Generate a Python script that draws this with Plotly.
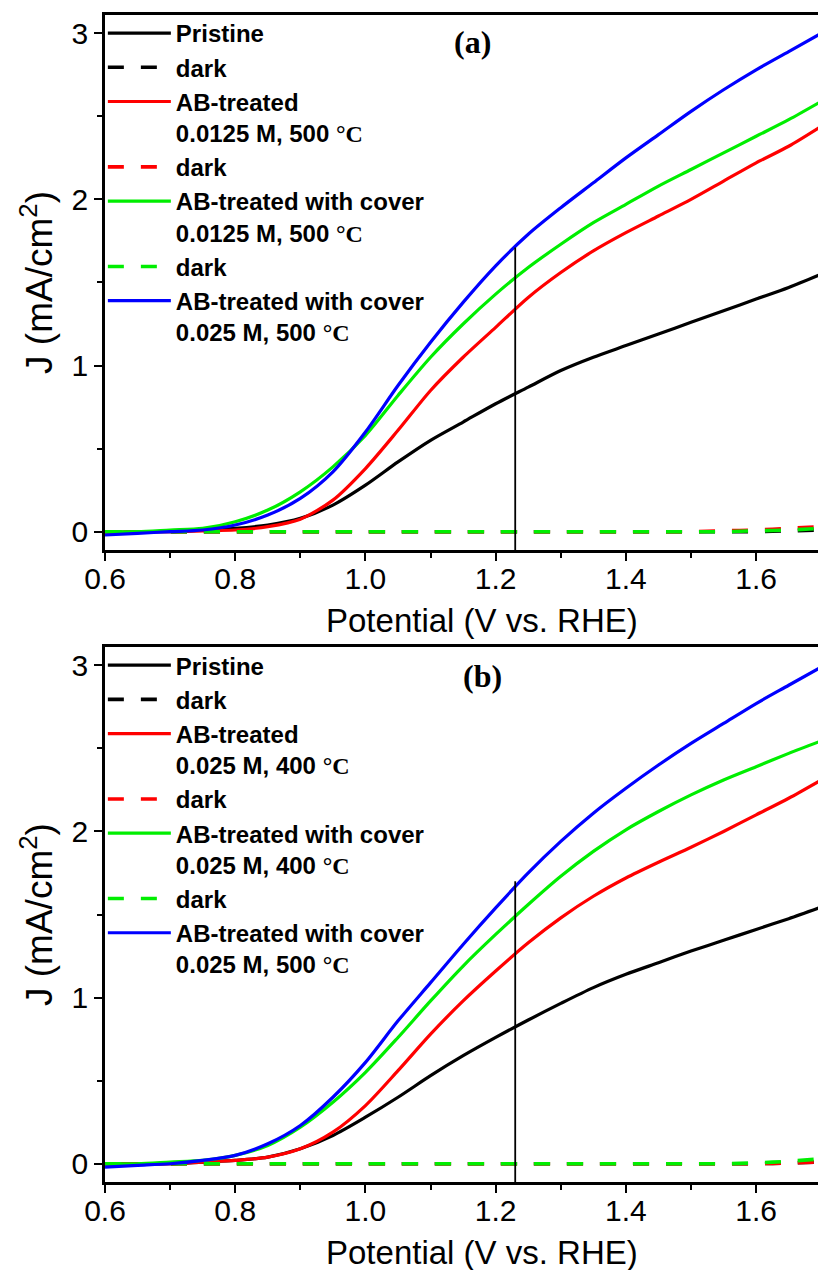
import plotly.graph_objects as go

# ---------------- data ----------------
V = [0.60, 0.65, 0.70, 0.75, 0.80, 0.85, 0.90, 0.95, 1.00, 1.05, 1.10, 1.15,
     1.20, 1.25, 1.30, 1.35, 1.40, 1.45, 1.50, 1.55, 1.60, 1.65, 1.70]

# panel (a)
a_pristine = [-0.01, 0.00, 0.00, 0.01, 0.02, 0.04, 0.08, 0.16, 0.28, 0.42, 0.55, 0.66,
              0.77, 0.87, 0.97, 1.05, 1.12, 1.19, 1.26, 1.33, 1.40, 1.47, 1.55]
a_pristine_dark = [0.00] * 20 + [0.00, 0.005, 0.01]
a_ab = [-0.01, 0.00, 0.00, 0.005, 0.01, 0.03, 0.075, 0.19, 0.38, 0.61, 0.85, 1.05,
        1.23, 1.41, 1.56, 1.69, 1.80, 1.90, 2.00, 2.11, 2.22, 2.32, 2.44]
a_ab_dark = [0.00] * 18 + [0.00, 0.005, 0.01, 0.02, 0.03]
a_cov1 = [0.00, 0.00, 0.01, 0.02, 0.06, 0.13, 0.24, 0.39, 0.58, 0.82, 1.05, 1.25,
          1.43, 1.59, 1.73, 1.86, 1.97, 2.08, 2.18, 2.28, 2.38, 2.48, 2.59]
a_cov1_dark = [0.00] * 20 + [0.005, 0.01, 0.02]
a_cov2 = [-0.02, -0.01, 0.00, 0.01, 0.04, 0.10, 0.20, 0.36, 0.60, 0.88, 1.14, 1.38,
          1.60, 1.79, 1.95, 2.10, 2.25, 2.39, 2.53, 2.66, 2.78, 2.89, 3.00]

# panel (b)
b_pristine = [0.00, 0.00, 0.00, 0.01, 0.02, 0.04, 0.09, 0.17, 0.28, 0.40, 0.53, 0.65,
              0.76, 0.865, 0.965, 1.06, 1.14, 1.21, 1.28, 1.345, 1.41, 1.475, 1.545]
b_pristine_dark = [0.00] * 20 + [0.00, 0.005, 0.01]
b_ab = [0.00, 0.00, 0.00, 0.01, 0.02, 0.04, 0.09, 0.19, 0.35, 0.56, 0.78, 0.98,
        1.16, 1.33, 1.48, 1.61, 1.72, 1.815, 1.905, 2.00, 2.10, 2.20, 2.31]
b_ab_dark = [0.00] * 20 + [0.00, 0.005, 0.01]
b_cov1 = [0.00, 0.00, 0.01, 0.02, 0.05, 0.11, 0.22, 0.37, 0.55, 0.76, 0.98, 1.19,
          1.38, 1.56, 1.73, 1.88, 2.01, 2.12, 2.22, 2.31, 2.39, 2.47, 2.545]
b_cov1_dark = [0.00] * 20 + [0.005, 0.015, 0.03]
b_cov2 = [-0.02, -0.01, 0.00, 0.02, 0.05, 0.12, 0.23, 0.40, 0.61, 0.86, 1.09, 1.32,
          1.54, 1.75, 1.94, 2.11, 2.26, 2.40, 2.53, 2.65, 2.77, 2.88, 2.99]

# marker line at 1.23 V (from x axis up to blue curve)
mark_V = [1.23, 1.23]
a_mark_J = [-0.11, 1.71]
b_mark_J = [-0.11, 1.70]

x_title = "Potential (V vs. RHE)"
y_title = "J (mA/cm<sup>2</sup>)"
C = '<span style="font-family:Liberation Serif">°C</span>'
names_a = ["Pristine", "dark", "AB-treated<br>0.0125 M, 500 " + C, "dark",
           "AB-treated with cover<br>0.0125 M, 500 " + C, "dark",
           "AB-treated with cover<br>0.025 M, 500 " + C]
names_b = ["Pristine", "dark", "AB-treated<br>0.025 M, 400 " + C, "dark",
           "AB-treated with cover<br>0.025 M, 400 " + C, "dark",
           "AB-treated with cover<br>0.025 M, 500 " + C]
colors = ["#000000", "#000000", "#ff0000", "#ff0000", "#00ee00", "#00ee00", "#0000ff"]
dashes = ["solid", "16px,17px", "solid", "16px,17px", "solid", "16px,17px", "solid"]
widths = [3.2, 3.6, 3.2, 3.6, 3.2, 3.6, 3.2]

series_a = [a_pristine, a_pristine_dark, a_ab, a_ab_dark, a_cov1, a_cov1_dark, a_cov2]
series_b = [b_pristine, b_pristine_dark, b_ab, b_ab_dark, b_cov1, b_cov1_dark, b_cov2]

fig = go.Figure()

for series, names, leg, xa, ya, mark in [
        (series_a, names_a, "legend", "x", "y", a_mark_J),
        (series_b, names_b, "legend2", "x2", "y2", b_mark_J)]:
    for s, n, c, d, w in zip(series, names, colors, dashes, widths):
        fig.add_trace(go.Scatter(
            x=V, y=s, name=n, mode="lines", legend=leg, xaxis=xa, yaxis=ya,
            line=dict(color=c, width=w, dash=d, shape="spline", smoothing=0.8)))
    fig.add_trace(go.Scatter(x=mark_V, y=mark, mode="lines", showlegend=False,
                             xaxis=xa, yaxis=ya,
                             line=dict(color="black", width=1.8)))

FONT = "Liberation Sans"
axis_common = dict(showline=True, linecolor="black", linewidth=2.6,
                   ticks="outside", ticklen=8, tickwidth=2.2, tickcolor="black",
                   showgrid=False, zeroline=False,
                   tickfont=dict(family=FONT, size=30, color="black"))

dom_a = [0.5416, 1.0]
dom_b = [0.0, 0.4584]
for i, dom in enumerate([dom_a, dom_b]):
    sfx = "" if i == 0 else str(i + 1)
    fig.update_layout(**{
        "xaxis" + sfx: dict(axis_common, domain=[0, 1], range=[0.6, 1.695],
                            anchor="y" + sfx, mirror=True,
                            tick0=0.6, dtick=0.2, tickformat=".1f",
                            ticklabelstandoff=-8,
                            minor=dict(dtick=0.1, tick0=0.6, ticklen=5, tickwidth=2.2,
                                       tickcolor="black", ticks="outside")),
        "yaxis" + sfx: dict(axis_common, domain=dom, range=[-0.11, 3.11],
                            anchor="x" + sfx, mirror=False,
                            tick0=0, dtick=1,
                            minor=dict(dtick=0.5, tick0=0, ticklen=5, tickwidth=2.2,
                                       tickcolor="black", ticks="outside"),
                            title=dict(text=y_title, standoff=8,
                                       font=dict(family=FONT, size=37, color="black"))),
    })
    # x-axis title (slightly right of centre, as in the reference)
    fig.add_annotation(text=x_title, x=0.529, y=-0.131,
                       xref="x%s domain" % sfx, yref="y%s domain" % sfx,
                       xanchor="center", yanchor="middle", showarrow=False,
                       font=dict(family=FONT, size=33, color="black"))

legend_common = dict(x=-0.003, xanchor="left", yanchor="top", bgcolor="rgba(0,0,0,0)",
                     borderwidth=0, valign="top", itemwidth=63, tracegroupgap=0,
                     font=dict(family=FONT, size=24, color="black", weight="bold"))
fig.update_layout(
    legend=dict(legend_common, y=1.0 + 4 / 1167),
    legend2=dict(legend_common, y=0.4584 + 4 / 1167),
)

fig.add_annotation(text="<b>(a)</b>", x=0.516, y=0.95, xref="x domain", yref="y domain",
                   xanchor="center", yanchor="middle", showarrow=False,
                   font=dict(family="Liberation Serif", size=32, color="black"))
fig.add_annotation(text="<b>(b)</b>", x=0.529, y=0.945, xref="x2 domain", yref="y2 domain",
                   xanchor="center", yanchor="middle", showarrow=False,
                   font=dict(family="Liberation Serif", size=32, color="black"))

fig.update_layout(width=818, height=1270, margin=dict(l=105, r=0, t=15, b=88),
                  paper_bgcolor="white", plot_bgcolor="white", showlegend=True)

fig.write_html("out.html", config={"displayModeBar": False},
               post_script="document.body.style.margin='0';"
                           "document.body.style.overflow='hidden';")
